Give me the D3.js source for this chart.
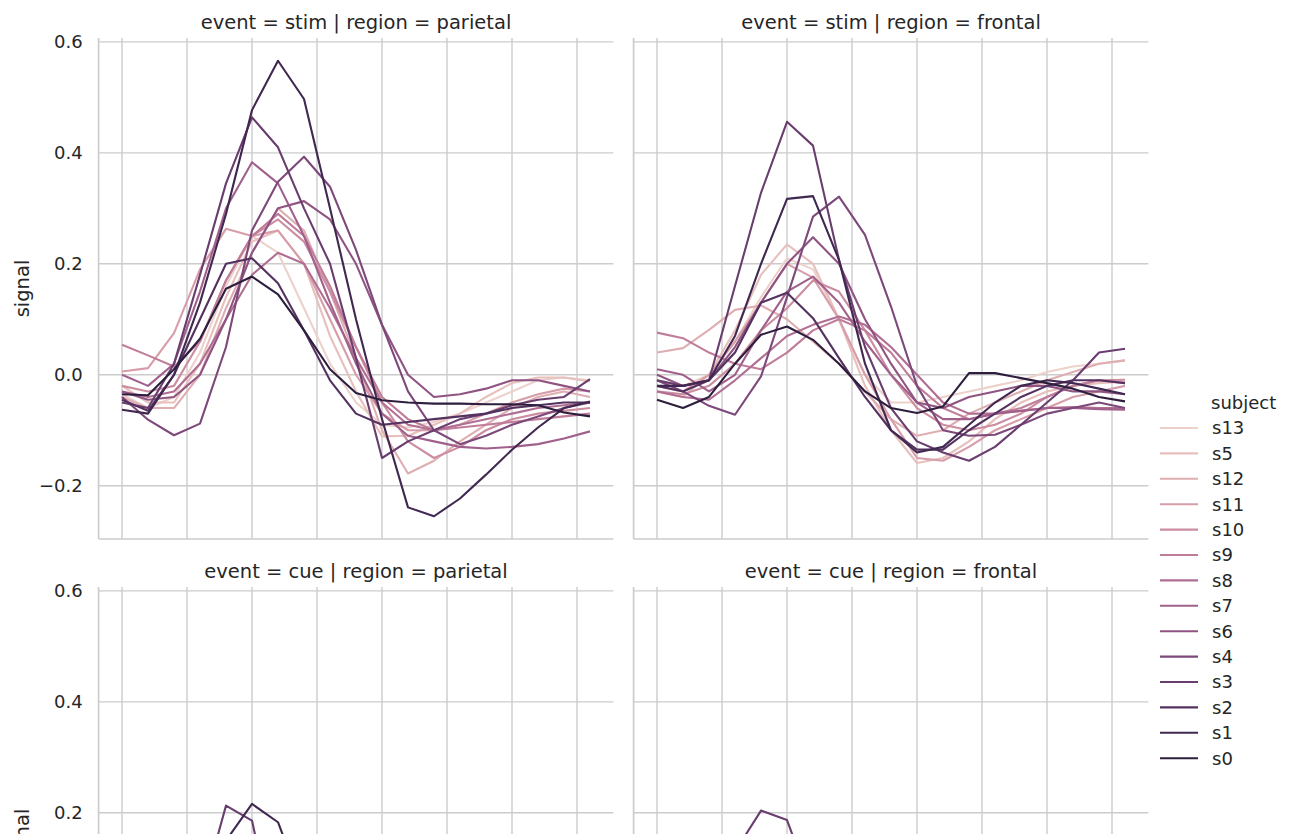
<!DOCTYPE html>
<html><head><meta charset="utf-8">
<script src="https://cdn.jsdelivr.net/npm/d3@7"></script>
<style>
html,body{margin:0;padding:0;background:#fff;overflow:hidden}
text{font-family:"DejaVu Sans",sans-serif;fill:#262626}
</style></head><body>
<svg id="c" width="1295" height="834"></svg>
<script>
// ---------------- data ----------------
const subjects = ["s13","s5","s12","s11","s10","s9","s8","s7","s6","s4","s3","s2","s1","s0"];
const timepoints = [0,1,2,3,4,5,6,7,8,9,10,11,12,13,14,15,16,17,18];
const xTicks = [0,2.5,5,7.5,10,12.5,15,17.5];
const yTicks = [-0.2,0.0,0.2,0.4,0.6];

// event = stim | region = parietal (rows follow `subjects`)
const stimParietal = [
 [-0.035,-0.06,-0.04,0.04,0.16,0.25,0.22,0.12,0.02,-0.05,-0.09,-0.095,-0.085,-0.07,-0.05,-0.03,-0.01,-0.005,-0.01],
 [-0.02,-0.05,-0.05,0.02,0.14,0.24,0.26,0.2,0.07,-0.03,-0.111,-0.11,-0.09,-0.07,-0.04,-0.015,-0.005,-0.005,-0.012],
 [-0.04,-0.06,-0.06,0.0,0.12,0.22,0.30,0.26,0.15,0.03,-0.1,-0.178,-0.155,-0.12,-0.09,-0.06,-0.04,-0.03,-0.04],
 [0.006,0.012,0.075,0.19,0.263,0.25,0.26,0.2,0.1,0.0,-0.07,-0.1,-0.1,-0.09,-0.07,-0.05,-0.035,-0.025,-0.03],
 [-0.02,-0.03,-0.02,0.06,0.17,0.25,0.28,0.24,0.15,0.05,-0.05,-0.12,-0.15,-0.13,-0.1,-0.08,-0.07,-0.065,-0.06],
 [0.054,0.035,0.015,0.06,0.17,0.25,0.29,0.25,0.16,0.05,-0.04,-0.08,-0.1,-0.095,-0.09,-0.085,-0.08,-0.075,-0.07],
 [-0.03,-0.04,-0.03,0.02,0.1,0.18,0.22,0.2,0.12,0.03,-0.05,-0.09,-0.1,-0.09,-0.08,-0.07,-0.06,-0.055,-0.05],
 [0.0,-0.02,0.02,0.15,0.3,0.383,0.345,0.25,0.13,0.02,-0.07,-0.11,-0.12,-0.13,-0.133,-0.13,-0.125,-0.115,-0.102],
 [-0.03,-0.045,-0.04,0.0,0.1,0.22,0.3,0.313,0.28,0.2,0.09,0.0,-0.04,-0.035,-0.025,-0.01,-0.01,-0.02,-0.03],
 [-0.04,-0.081,-0.109,-0.088,0.05,0.26,0.348,0.393,0.339,0.225,0.09,-0.03,-0.1,-0.125,-0.11,-0.09,-0.075,-0.06,-0.05],
 [-0.05,-0.06,0.02,0.18,0.345,0.464,0.41,0.3,0.2,0.03,-0.15,-0.12,-0.1,-0.08,-0.07,-0.055,-0.045,-0.04,-0.008],
 [-0.045,-0.065,0.0,0.1,0.2,0.21,0.165,0.08,-0.01,-0.07,-0.09,-0.085,-0.08,-0.075,-0.07,-0.06,-0.055,-0.05,-0.05],
 [-0.063,-0.07,0.0,0.13,0.29,0.477,0.566,0.497,0.3,0.1,-0.08,-0.239,-0.255,-0.223,-0.18,-0.135,-0.095,-0.06,-0.048],
 [-0.035,-0.037,0.01,0.065,0.155,0.177,0.145,0.08,0.01,-0.033,-0.046,-0.05,-0.052,-0.052,-0.053,-0.053,-0.055,-0.068,-0.075]
];
// event = stim | region = frontal
const stimFrontal = [
 [-0.01,-0.02,0.0,0.06,0.14,0.21,0.19,0.1,0.0,-0.05,-0.05,-0.04,-0.03,-0.02,-0.01,0.005,0.015,0.02,0.026],
 [-0.03,-0.04,0.0,0.08,0.18,0.235,0.2,0.1,-0.02,-0.1,-0.159,-0.15,-0.12,-0.08,-0.05,-0.03,-0.02,-0.015,-0.012],
 [0.04,0.048,0.081,0.117,0.125,0.1,0.06,0.02,-0.03,-0.08,-0.11,-0.1,-0.07,-0.05,-0.03,-0.01,0.005,0.02,0.026],
 [-0.02,-0.03,0.0,0.06,0.13,0.2,0.175,0.1,0.0,-0.08,-0.15,-0.155,-0.13,-0.1,-0.08,-0.06,-0.04,-0.03,-0.02],
 [-0.03,-0.035,-0.02,0.02,0.08,0.12,0.17,0.15,0.08,0.0,-0.06,-0.09,-0.1,-0.09,-0.07,-0.04,-0.02,-0.01,-0.009],
 [0.076,0.066,0.04,0.02,0.01,0.04,0.08,0.1,0.08,0.04,-0.02,-0.06,-0.08,-0.07,-0.06,-0.04,-0.02,-0.01,-0.015],
 [-0.03,-0.04,-0.045,-0.01,0.03,0.07,0.09,0.105,0.09,0.05,0.0,-0.05,-0.07,-0.07,-0.065,-0.06,-0.058,-0.06,-0.06],
 [0.01,0.0,-0.03,0.0,0.08,0.15,0.177,0.13,0.06,0.0,-0.05,-0.08,-0.08,-0.07,-0.065,-0.06,-0.06,-0.062,-0.063],
 [0.0,-0.02,-0.01,0.05,0.13,0.2,0.248,0.2,0.1,0.02,-0.05,-0.06,-0.04,-0.03,-0.02,-0.02,-0.03,-0.03,-0.035],
 [-0.01,-0.03,-0.056,-0.072,-0.003,0.14,0.285,0.321,0.252,0.123,-0.02,-0.1,-0.11,-0.108,-0.09,-0.07,-0.06,-0.05,-0.06],
 [-0.01,-0.02,-0.01,0.16,0.328,0.456,0.413,0.207,0.05,-0.06,-0.12,-0.14,-0.155,-0.13,-0.09,-0.05,-0.01,0.04,0.047],
 [-0.02,-0.03,-0.01,0.04,0.13,0.148,0.102,0.03,-0.04,-0.1,-0.135,-0.135,-0.1,-0.07,-0.04,-0.02,-0.01,-0.01,-0.015],
 [-0.02,-0.02,-0.01,0.07,0.2,0.317,0.322,0.207,0.02,-0.1,-0.14,-0.13,-0.09,-0.05,-0.02,-0.01,-0.015,-0.025,-0.035],
 [-0.045,-0.06,-0.04,0.02,0.072,0.087,0.063,0.02,-0.03,-0.06,-0.069,-0.057,0.003,0.003,-0.006,-0.015,-0.025,-0.04,-0.048]
];
// cue panels: only the subjects whose curves reach the visible part of the picture
const cueParietalSubjects = ["s3","s1"];
const cueParietal = [
 [-0.03,-0.04,-0.03,0.043,0.213,0.186,-0.03,-0.07,-0.06,-0.05,-0.04,-0.03,-0.03,-0.02,-0.02,-0.01,-0.01,-0.01,-0.01],
 [-0.03,-0.04,-0.05,-0.02,0.15,0.216,0.183,0.06,-0.03,-0.06,-0.06,-0.05,-0.04,-0.03,-0.02,-0.02,-0.01,-0.01,-0.01]
];
const cueFrontalSubjects = ["s3"];
const cueFrontal = [
 [-0.03,-0.04,-0.03,0.13,0.204,0.187,0.06,-0.03,-0.06,-0.05,-0.04,-0.03,-0.02,-0.02,-0.01,-0.01,-0.01,-0.01,-0.01]
];

// ------------- palette (seaborn cubehelix default) -------------
function cubehelix(x){
  const start=0, rot=0.4, gamma=1, hue=0.8;
  const xg=Math.pow(x,gamma), a=hue*xg*(1-xg)/2, phi=2*Math.PI*(start/3+rot*x);
  const c=Math.cos(phi), s=Math.sin(phi);
  const cl=v=>Math.max(0,Math.min(1,v));
  return d3.rgb(255*cl(xg+a*(-0.14861*c+1.78277*s)),
                255*cl(xg+a*(-0.29227*c-0.90649*s)),
                255*cl(xg+a*(1.97294*c))).formatHex();
}
const colors = subjects.map((d,i)=>cubehelix(0.85 + (0.15-0.85)*i/(subjects.length-1)));
const color = d3.scaleOrdinal().domain(subjects).range(colors);

// ------------- layout -------------
const svg = d3.select("#c");
const W = 514.8, H = 501;
const cols = [98.6, 633.6], rows = [38, 587];
const x = d3.scaleLinear().domain([-0.9,18.9]).range([0,W]);
const y = d3.scaleLinear().domain([-0.296,0.607]).range([H,0]);
const grid = "#cccccc";
const fmt = v => (v<0?"\u2212":"") + Math.abs(v).toFixed(1);
const FS_TITLE = 19.5, FS_TICK = 18;

const panels = [
  {title:"event = stim | region = parietal", c:0, r:0, subs:subjects, data:stimParietal},
  {title:"event = stim | region = frontal",  c:1, r:0, subs:subjects, data:stimFrontal},
  {title:"event = cue | region = parietal",  c:0, r:1, subs:cueParietalSubjects, data:cueParietal},
  {title:"event = cue | region = frontal",   c:1, r:1, subs:cueFrontalSubjects, data:cueFrontal}
];

const line = d3.line().x((d,i)=>x(timepoints[i])).y(d=>y(d));

panels.forEach((p,k)=>{
  const g = svg.append("g").attr("transform",`translate(${cols[p.c]},${rows[p.r]})`);
  g.append("clipPath").attr("id","clip"+k).append("rect").attr("width",W).attr("height",H);
  // grid
  g.append("g").selectAll("line").data(xTicks).join("line")
    .attr("x1",d=>x(d)).attr("x2",d=>x(d)).attr("y1",0).attr("y2",H)
    .attr("stroke",grid).attr("stroke-width",1.4);
  g.append("g").selectAll("line").data(yTicks).join("line")
    .attr("x1",0).attr("x2",W).attr("y1",d=>y(d)).attr("y2",d=>y(d))
    .attr("stroke",grid).attr("stroke-width",1.4);
  // spines
  g.append("line").attr("x1",0).attr("x2",0).attr("y1",0).attr("y2",H).attr("stroke",grid).attr("stroke-width",1.7);
  g.append("line").attr("x1",0).attr("x2",W).attr("y1",H).attr("y2",H).attr("stroke",grid).attr("stroke-width",1.7);
  // lines
  const lg = g.append("g").attr("clip-path",`url(#clip${k})`);
  p.data.forEach((vals,i)=>{
    lg.append("path").attr("d",line(vals)).attr("fill","none")
      .attr("stroke",color(p.subs[i])).attr("stroke-width",2.1)
      .attr("stroke-linejoin","round").attr("stroke-linecap","butt");
  });
  // title
  g.append("text").attr("x",W/2).attr("y",-9).attr("text-anchor","middle")
    .attr("font-size",FS_TITLE).text(p.title);
  // y tick labels on left column
  if(p.c===0){
    g.append("g").selectAll("text").data(yTicks).join("text")
      .attr("x",-16).attr("y",d=>y(d)).attr("dy","0.36em").attr("text-anchor","end")
      .attr("font-size",FS_TICK).text(fmt);
    g.append("text").attr("transform",`translate(${29-cols[0]},${H/2}) rotate(-90)`)
      .attr("text-anchor","middle").attr("font-size",FS_TITLE).text("signal");
  }
});

// legend
const leg = svg.append("g");
leg.append("text").attr("x",1211).attr("y",403).attr("dy","0.36em").attr("font-size",FS_TICK).text("subject");
subjects.forEach((s,i)=>{
  const yy = 428 + i*25.4;
  leg.append("line").attr("x1",1160).attr("x2",1198).attr("y1",yy).attr("y2",yy)
    .attr("stroke",color(s)).attr("stroke-width",2.1);
  leg.append("text").attr("x",1212).attr("y",yy).attr("dy","0.36em").attr("font-size",FS_TICK).text(s);
});
</script></body></html>
